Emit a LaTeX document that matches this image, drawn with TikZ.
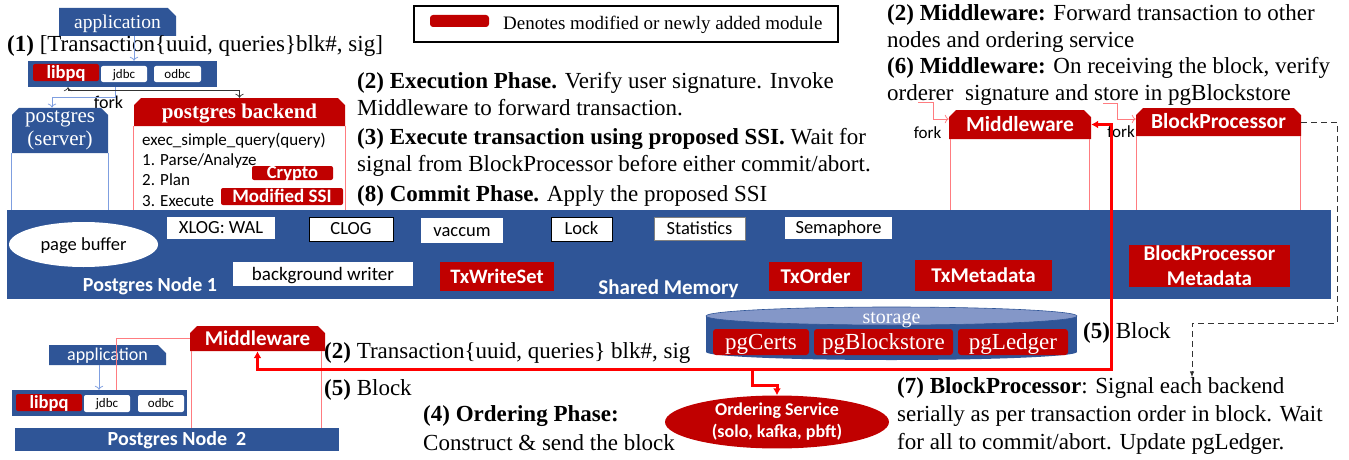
\documentclass[tikz,border=0pt]{standalone}
\usepackage{fontspec}
\setmainfont{Liberation Serif}
\setsansfont{Carlito}
\usepackage{tikz}
\usetikzlibrary{shapes,arrows.meta}
\definecolor{pgblue}{HTML}{2F5597}
\definecolor{pgred}{HTML}{C00000}
\definecolor{pgpink}{HTML}{FF7C80}
\definecolor{pgsky}{HTML}{7F9FE0}
\definecolor{pgtop}{HTML}{8497C8}
\tikzset{
    bar/.style = {rectangle, fill=pgblue, inner sep=0pt},
    head/.style = {chamfered rectangle,
                   chamfered rectangle corners={north west,north east},
                   chamfered rectangle xsep=4pt,
                   fill=pgred, text=white, inner sep=0pt
    },
    appbox/.style = {chamfered rectangle,
                     chamfered rectangle corners=north east,
                     chamfered rectangle xsep=5pt,
                     fill=pgblue, text=white, inner sep=0pt
    },
    modbox/.style = {rectangle, fill=pgred, text=white, inner sep=0pt},
    membox/.style = {rectangle, fill=white, inner sep=0pt},
    sftext/.style = {font=\sffamily\fontsize{#1}{#1}\selectfont,
                     text height=0.64*#1, text depth=0pt},
    sfbold/.style = {font=\sffamily\bfseries\fontsize{#1}{#1}\selectfont,
                     text height=0.64*#1, text depth=0pt},
    rmtext/.style = {font=\fontsize{#1}{#1}\selectfont,
                     text height=0.66*#1, text depth=0pt},
    rmbold/.style = {font=\bfseries\fontsize{#1}{#1}\selectfont,
                     text height=0.66*#1, text depth=0pt},
    phase/.style = {anchor=west, inner sep=0pt, align=left,
                    font=\fontsize{23}{27}\selectfont},
    wall/.style = {draw=pgpink, line width=1pt},
    skywall/.style = {draw=pgsky, line width=1pt},
    skyarr/.style = {draw=pgsky, line width=0.8pt, -{To[length=4pt]}},
    forkarr/.style = {draw=pgpink, line width=0.8pt, -{To[length=4pt]}},
    flow/.style = {draw=red, line width=3pt,
                   arrows={-Latex[length=7pt,width=8pt]}}
}
\begin{document}
\begin{tikzpicture}[x=1pt, y=-1pt]
    \useasboundingbox (0,0) rectangle (1349,460);

    \node [appbox, rmtext=19.5, minimum width=117pt, minimum height=28pt] (app1)    at (117.5,22)  {application};
    \node [phase]                                                         (step1)   at (7,46)      {\textbf{(1)} [Transaction\{uuid, queries\}blk\#, sig]};
    \node [bar, minimum width=189pt, minimum height=26pt]                 (libbar1) at (122.5,74)  {};
    \node [modbox, sfbold=18.5, minimum width=66pt, minimum height=17pt, rounded corners=2pt] (libpq1) at (66,72.5) {libpq};
    \node [membox, sftext=13, minimum width=46pt, minimum height=16pt, rounded corners=2pt]  (jdbc1)  at (124,74)   {jdbc};
    \node [membox, sftext=13, minimum width=47pt, minimum height=16pt, rounded corners=2pt]  (odbc1)  at (177.5,74) {odbc};
    \node [sftext=18]                                                     (fork1)   at (108.5,103) {fork};

    \node [head, fill=pgblue, align=center, font=\fontsize{21}{23}\selectfont,
           minimum width=96pt, minimum height=45pt]                       (server)  at (60,130.5)  {postgres\\(server)};
    \node [head, rmbold=21, minimum width=211pt, minimum height=28pt]     (backend) at (239.5,112) {postgres backend};
    \node [anchor=west, inner sep=0pt, align=left,
           font=\sffamily\fontsize{17}{20.3}\selectfont]                  (steps)   at (142,169.5) {exec\_simple\_query(query)\\1. Parse/Analyze\\2. Plan\\3. Execute};
    \node [modbox, sfbold=18.5, minimum width=81pt, minimum height=14pt, rounded corners=2pt] (crypto) at (292.5,173) {Crypto};
    \node [modbox, sfbold=19, minimum width=122pt, minimum height=17pt, rounded corners=2pt]  (modssi) at (282,196.5) {Modified SSI};

    \node [draw, line width=1.2pt, minimum width=424pt, minimum height=36pt] (legend)  at (626,24)   {};
    \node [modbox, minimum width=59pt, minimum height=12pt, rounded corners=3pt] (legbar) at (459.5,21) {};
    \node [anchor=west, inner sep=0pt, rmtext=19]                         (legtext) at (503,23)    {Denotes modified or newly added module};

    \node [phase] (ph2) at (357,94.5) {\textbf{(2) Execution Phase.} Verify user signature. Invoke\\Middleware to forward transaction.};
    \node [phase] (ph3) at (357,152)  {\textbf{(3) Execute transaction using proposed SSI.} Wait for\\signal from BlockProcessor before either commit/abort.};
    \node [phase] (ph8) at (357,196)  {\textbf{(8) Commit Phase.} Apply the proposed SSI};
    \node [phase] (mwtx2) at (887,28.5) {\textbf{(2) Middleware:} Forward transaction to other\\nodes and ordering service};
    \node [phase] (mwtx6) at (887,81)   {\textbf{(6) Middleware:} On receiving the block, verify\\orderer~ signature and store in pgBlockstore};

    \node [head, sfbold=21.5, minimum width=142pt, minimum height=29pt]   (mw1)     at (1020,124.5)  {Middleware};
    \node [head, sfbold=21.5, minimum width=165pt, minimum height=28pt]   (bp)      at (1218.5,122)  {BlockProcessor};
    \node [sftext=17]                                                     (fork2)   at (927.5,133)   {fork};
    \node [sftext=17]                                                     (fork3)   at (1121,132)    {fork};

    \node [bar, minimum width=1324pt, minimum height=89pt]                (mem)     at (669,254.5)   {};
    \node [ellipse, fill=white, inner sep=0pt, minimum width=149pt, minimum height=45pt, sftext=18.5] (pagebuf) at (83.5,244.5) {page buffer};
    \node [membox, sftext=18.5, minimum width=108pt, minimum height=22pt] (xlog)    at (221,228)     {XLOG: WAL};
    \node [membox, draw=black, sftext=18.5, minimum width=84pt, minimum height=24pt] (clog) at (351,229) {CLOG};
    \node [membox, sftext=18.5, minimum width=82pt, minimum height=25pt]  (vac)     at (462,230.5)   {vaccum};
    \node [membox, draw=black, sftext=18.5, minimum width=61pt, minimum height=24pt] (lock) at (581.5,229) {Lock};
    \node [membox, draw=gray, sftext=18.5, minimum width=91pt, minimum height=23pt]  (stats) at (699.5,228.5) {Statistics};
    \node [membox, sftext=18.5, minimum width=107pt, minimum height=22pt] (sema)    at (838.5,228)   {Semaphore};
    \node [membox, sftext=19, minimum width=180pt, minimum height=24pt]   (bgw)     at (323,274)     {background writer};
    \node [modbox, sfbold=20.5, minimum width=114pt, minimum height=29pt] (txws)    at (497,276.5)   {TxWriteSet};
    \node [modbox, sfbold=21, minimum width=93pt, minimum height=29pt]    (txord)   at (815.5,276.5) {TxOrder};
    \node [modbox, sfbold=21, minimum width=137pt, minimum height=31pt]   (txmeta)  at (983.5,275.5) {TxMetadata};
    \node [modbox, align=center, font=\sffamily\bfseries\fontsize{21}{25}\selectfont,
           minimum width=161pt, minimum height=42pt]                      (bpmeta)  at (1209.5,266)  {BlockProcessor\\Metadata};
    \node [sfbold=20, text=white]                                         (node1)   at (150,285)     {Postgres Node 1};
    \node [sfbold=21, text=white]                                         (shmem)   at (668.5,288)   {Shared Memory};

    \fill [pgblue] (706,316) rectangle (1077,352);
    \fill [pgblue] (891.5,352) ellipse [x radius=185.5pt, y radius=8pt];
    \filldraw [fill=pgtop, draw=pgblue, line width=0.6pt] (891.5,316) ellipse [x radius=185.5pt, y radius=9pt];
    \node [rmtext=20, text=white]                                         (storage) at (891.5,317)   {storage};
    \node [modbox, rmtext=23, minimum width=96pt, minimum height=26pt, rounded corners=3pt]  (pgcerts)  at (761,342)    {pgCerts};
    \node [modbox, rmtext=23, minimum width=139pt, minimum height=26pt, rounded corners=3pt] (pgblock)  at (883.5,342)  {pgBlockstore};
    \node [modbox, rmtext=23, minimum width=110pt, minimum height=26pt, rounded corners=3pt] (pgledger) at (1013,342)   {pgLedger};

    \node [phase] (block5a) at (1083,333) {\textbf{(5)} Block};
    \node [phase] (tx2)     at (324,353)  {\textbf{(2)} Transaction\{uuid, queries\} blk\#, sig};
    \node [phase] (block5b) at (324,390)  {\textbf{(5)} Block};
    \node [phase, font=\fontsize{23}{29}\selectfont] (ord4)   at (423,428.5) {\textbf{(4) Ordering Phase:}\\Construct \& send the block};
    \node [phase, font=\fontsize{23}{28}\selectfont] (bptext) at (897,416)   {\textbf{(7) BlockProcessor}: Signal each backend\\serially as per transaction order in block. Wait\\for all to commit/abort. Update pgLedger.};
    \node [ellipse, fill=pgred, text=white, inner sep=0pt, minimum width=224pt, minimum height=50pt, align=center,
           font=\sffamily\bfseries\fontsize{18}{22}\selectfont]           (order)   at (777,422)     {Ordering Service\\(solo, kafka, pbft)};

    \node [appbox, sftext=18, minimum width=117pt, minimum height=20pt]   (app2)    at (107.5,355)   {application};
    \node [bar, minimum width=175pt, minimum height=26pt]                 (libbar2) at (99.5,403)    {};
    \node [modbox, sfbold=18.5, minimum width=66pt, minimum height=17pt, rounded corners=2pt] (libpq2) at (49,402.5)  {libpq};
    \node [membox, sftext=13, minimum width=46pt, minimum height=17pt, rounded corners=2pt]  (jdbc2)  at (107,403.5) {jdbc};
    \node [membox, sftext=13, minimum width=46pt, minimum height=17pt, rounded corners=2pt]  (odbc2)  at (161,403.5) {odbc};
    \node [head, sfbold=21, minimum width=135pt, minimum height=25pt]     (mw2)     at (257.5,338.5) {Middleware};
    \node [bar, sfbold=20, text=white, minimum width=324pt, minimum height=23pt] (node2) at (177,439.5) {Postgres Node~~2};

    \draw [skywall] (server.south west) -- (server.south west |- mem.north);
    \draw [skywall] (server.south east) -- (server.south east |- mem.north);
    \draw [wall] (backend.south west) -- (backend.south west |- mem.north);
    \draw [wall] (backend.south east) -- (backend.south east |- mem.north);
    \draw [wall] ([xshift=2pt]mw1.south west) -- ([xshift=2pt]mw1.south west |- mem.north);
    \draw [wall] ([xshift=-2pt]mw1.south east) -- ([xshift=-2pt]mw1.south east |- mem.north);
    \draw [wall] ([xshift=1pt]bp.south west) -- ([xshift=1pt]bp.south west |- mem.north);
    \draw [wall] ([xshift=-1pt]bp.south east) -- ([xshift=-1pt]bp.south east |- mem.north);
    \draw [wall] ([xshift=2pt]mw2.south west) -- ([xshift=2pt]mw2.south west |- node2.north);
    \draw [wall] ([xshift=-4pt]mw2.south east) -- ([xshift=-4pt]mw2.south east |- node2.north);
    \draw [wall] (mw2.west) -| ([xshift=9pt]jdbc2.north |- libbar2.north);

    \draw [skyarr] ([xshift=16.5pt]app1.south) -- ([xshift=16.5pt]app1.south |- libbar1.north);
    \draw [skyarr] ([xshift=-9pt]jdbc1.south |- libbar1.south) -- ++(0,10) -| ([xshift=-8pt]server.north);
    \draw [black!80, line width=0.7pt, {To[length=4pt]}-{To[length=4pt]}] ([xshift=2pt]libpq1.south |- libbar1.south) -- ++(0,3) -| (backend.north);
    \draw [skyarr] ([xshift=-8.5pt]app2.south) -- ([xshift=-8.5pt]app2.south |- libbar2.north);

    \coordinate (fk1) at (918,102);
    \coordinate (fk2) at (1103,103);
    \draw [forkarr] (fk1) -- ++(15,0) |- ([yshift=5.5pt]mw1.west);
    \draw [forkarr] (fk2) -- ++(14,0) |- ([yshift=3pt]bp.west);

    \coordinate (rc) at (1111,369);
    \coordinate (rb) at (752,369);
    \draw [flow, arrows={Latex[length=7pt,width=8pt]-Latex[length=7pt,width=8pt]}] (mw2.south) |- (rc) |- (mw1.east);
    \draw [flow] (rb) -- ++(0,16) -| (order.north);

    \coordinate (dk) at (1192,323);
    \draw [black!80, line width=1pt, dash pattern=on 6pt off 4pt, -{Latex[length=6pt]}] (bp.east) -- ++(36,0) |- (dk) -- (dk |- bptext.north);
\end{tikzpicture}
\end{document}
